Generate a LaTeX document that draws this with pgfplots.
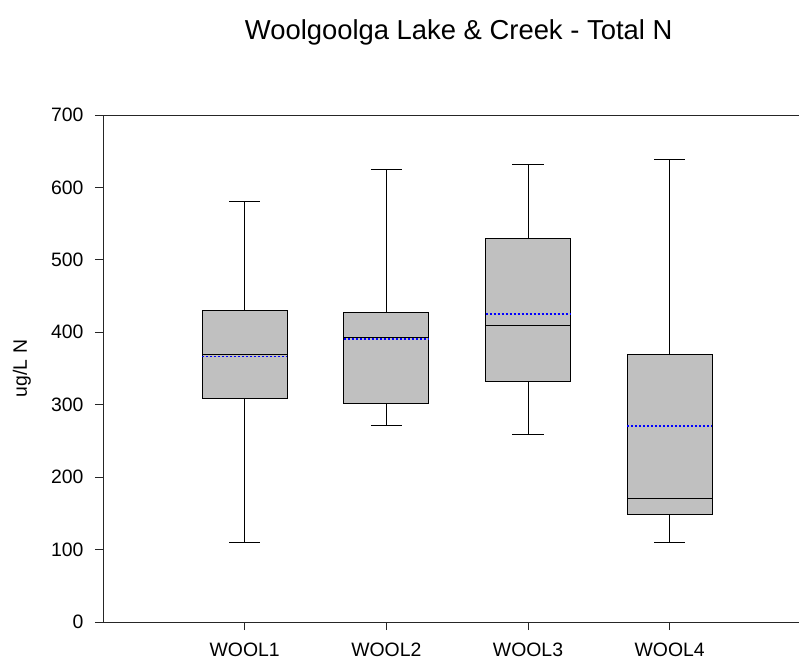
\documentclass[border=0pt]{standalone}
\usepackage{fontspec}
\setmainfont{Liberation Sans}
\usepackage{pgfplots}
\pgfplotsset{compat=1.18}

\definecolor{boxgray}{RGB}{192,192,192}
\pgfplotsset{
  meanline/.style={blue, line width=1.6bp, dash pattern=on 2bp off 2bp},
  boxbody/.style={fill=boxgray, draw=black, line width=1bp},
  boxlines/.style={black, line width=1bp},
}

\begin{document}
\begin{tikzpicture}
\useasboundingbox (0,0) rectangle (799bp,659bp);
\begin{axis}[
  at={(103bp,37bp)}, anchor=south west,
  scale only axis,
  width=696bp, height=507bp,
  xmin=0, xmax=4.913,
  ymin=0, ymax=700,
  axis lines=left,
  axis line style={-, line width=1bp, black!85},
  tick style={line width=1bp, black!85},
  tick align=outside,
  major tick length=8bp,
  xtick={1,2,3,4},
  xticklabels={WOOL1,WOOL2,WOOL3,WOOL4},
  ytick={0,100,...,700},
  /pgf/number format/assume math mode=true,
  tick label style={font=\fontsize{19.4bp}{23bp}\selectfont},
  xticklabel style={yshift=-9bp},
  yticklabel style={xshift=-8bp},
  label style={font=\fontsize{19.4bp}{23bp}\selectfont},
  ylabel={ug/L N},
  ylabel style={at={(axis description cs:-0.1092,0.5)}, anchor=base},
  title={Woolgoolga Lake \& Creek - Total N},
  title style={at={(axis description cs:0.511,1.138)}, anchor=base,
    font=\fontsize{27.4bp}{32bp}\selectfont},
  unbounded coords=jump,
]
% WOOL1: whiskers 110/581.1, quartiles 309/429.4, median 369.6
\addplot[boxbody] coordinates {(0.7,309) (1.3,309) (1.3,429.4) (0.7,429.4) (0.7,309)} -- cycle;
\addplot[boxlines] coordinates {(1,429.4) (1,581.1) (nan,nan) (0.89,581.1) (1.11,581.1) (nan,nan)
  (1,309) (1,110) (nan,nan) (0.89,110) (1.11,110) (nan,nan) (0.7,369.6) (1.3,369.6)};
% WOOL2: whiskers 271/625, quartiles 302/427, median 393
\addplot[boxbody] coordinates {(1.7,302) (2.3,302) (2.3,427) (1.7,427) (1.7,302)} -- cycle;
\addplot[boxlines] coordinates {(2,427) (2,625) (nan,nan) (1.89,625) (2.11,625) (nan,nan)
  (2,302) (2,271) (nan,nan) (1.89,271) (2.11,271) (nan,nan) (1.7,393) (2.3,393)};
% WOOL3: whiskers 259/631, quartiles 332/530, median 410
\addplot[boxbody] coordinates {(2.7,332) (3.3,332) (3.3,530) (2.7,530) (2.7,332)} -- cycle;
\addplot[boxlines] coordinates {(3,530) (3,631) (nan,nan) (2.89,631) (3.11,631) (nan,nan)
  (3,332) (3,259) (nan,nan) (2.89,259) (3.11,259) (nan,nan) (2.7,410) (3.3,410)};
% WOOL4: whiskers 110/638, quartiles 149/370, median 170
\addplot[boxbody] coordinates {(3.7,149) (4.3,149) (4.3,370) (3.7,370) (3.7,149)} -- cycle;
\addplot[boxlines] coordinates {(4,370) (4,638) (nan,nan) (3.89,638) (4.11,638) (nan,nan)
  (4,149) (4,110) (nan,nan) (3.89,110) (4.11,110) (nan,nan) (3.7,170) (4.3,170)};

% means
\addplot[meanline] coordinates {(0.7,366.8) (1.3,366.8)};
\addplot[meanline] coordinates {(1.7,390.5) (2.3,390.5)};
\addplot[meanline] coordinates {(2.7,425) (3.3,425)};
\addplot[meanline] coordinates {(3.7,271) (4.3,271)};

% top frame line (no right spine)
\draw[line width=1bp, black!85] (rel axis cs:0,1) -- (rel axis cs:1,1);
\end{axis}
\end{tikzpicture}
\end{document}
